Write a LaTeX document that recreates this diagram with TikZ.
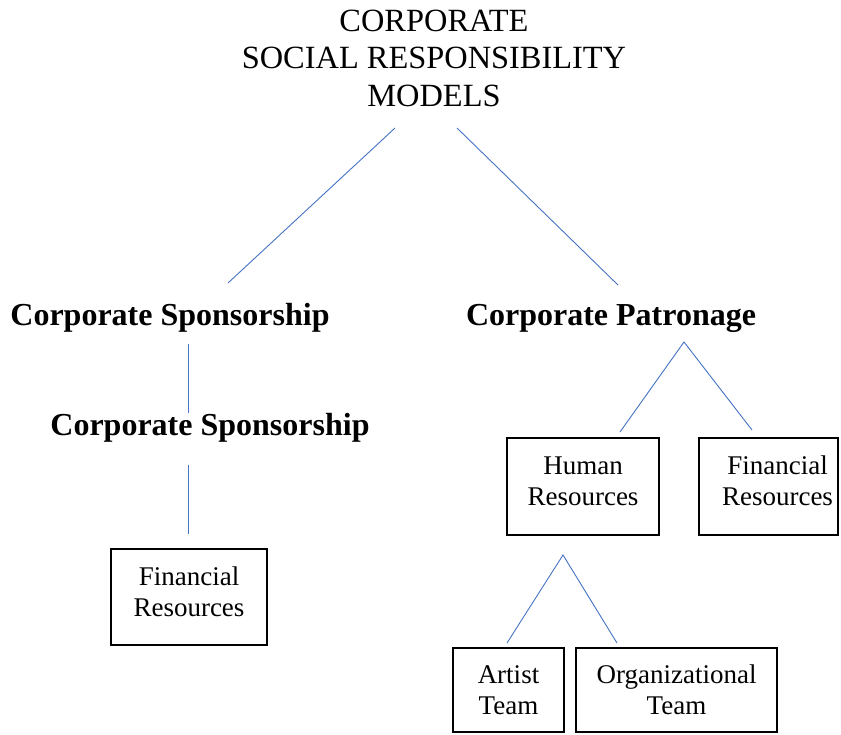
\documentclass[tikz,border=0pt]{standalone}
\usepackage{fontspec}
\setmainfont{Liberation Serif}
\usepackage{tikz}

\definecolor{linkblue}{RGB}{68,114,196}

\begin{document}
\begin{tikzpicture}[
    x=1pt, y=-1pt,
    heading/.style={font=\fontsize{32.4}{37.5}\selectfont, align=center, inner sep=0pt},
    model/.style={font=\bfseries\fontsize{32}{36}\selectfont, inner sep=0pt},
    resbox/.style={draw, line width=1.1pt, align=center, inner sep=0pt,
        font=\fontsize{27}{31}\selectfont},
    raised/.style={text depth=11pt},
    link/.style={draw=linkblue, line width=0.9pt},
]
    \useasboundingbox (0,0) rectangle (841,734);

    % title and the two models
    \node[heading] (csr) at (434,58) {CORPORATE\\SOCIAL RESPONSIBILITY\\MODELS};
    \node[model] (spons) at (170,318) {Corporate Sponsorship};
    \node[model] (spons2) at (210,428) {Corporate Sponsorship};
    \node[model] (patron) at (611,318) {Corporate Patronage};

    % resource boxes
    \node[resbox, raised, minimum width=156, minimum height=96] (finL) at (189,597) {Financial\\Resources};
    \node[resbox, raised, minimum width=152, minimum height=97] (human) at (583,486.5) {Human\\Resources};
    \node[resbox, raised, minimum width=139, minimum height=97] (finR) at (768.5,486.5)
        {\hspace*{18pt}Financial\\\hspace*{18pt}Resources};
    \node[resbox, minimum width=111, minimum height=84] (artist) at (508.5,690) {Artist\\Team};
    \node[resbox, minimum width=201, minimum height=84] (orga) at (676.5,690) {Organizational\\Team};

    % line ends
    \coordinate (csrL) at (395,128);
    \coordinate (csrR) at (457,128);
    \coordinate (sponsTop) at (228,283);
    \coordinate (patronTop) at (618,285);
    \coordinate (sponsA) at (188,344);
    \coordinate (sponsB) at (188,413);
    \coordinate (sponsC) at (188,465);
    \coordinate (sponsD) at (188,534);
    \coordinate (patronTip) at (684,342);
    \coordinate (humanL) at (620,432);
    \coordinate (finRL) at (752,430);
    \coordinate (teamTip) at (563,555);
    \coordinate (artistT) at (507,643);
    \coordinate (orgaT) at (617,643);

    \draw[link] (csrL) -- (sponsTop);
    \draw[link] (csrR) -- (patronTop);
    \draw[link] (sponsA) -- (sponsB);
    \draw[link] (sponsC) -- (sponsD);
    \draw[link] (humanL) -- (patronTip) -- (finRL);
    \draw[link] (artistT) -- (teamTip) -- (orgaT);
\end{tikzpicture}
\end{document}
